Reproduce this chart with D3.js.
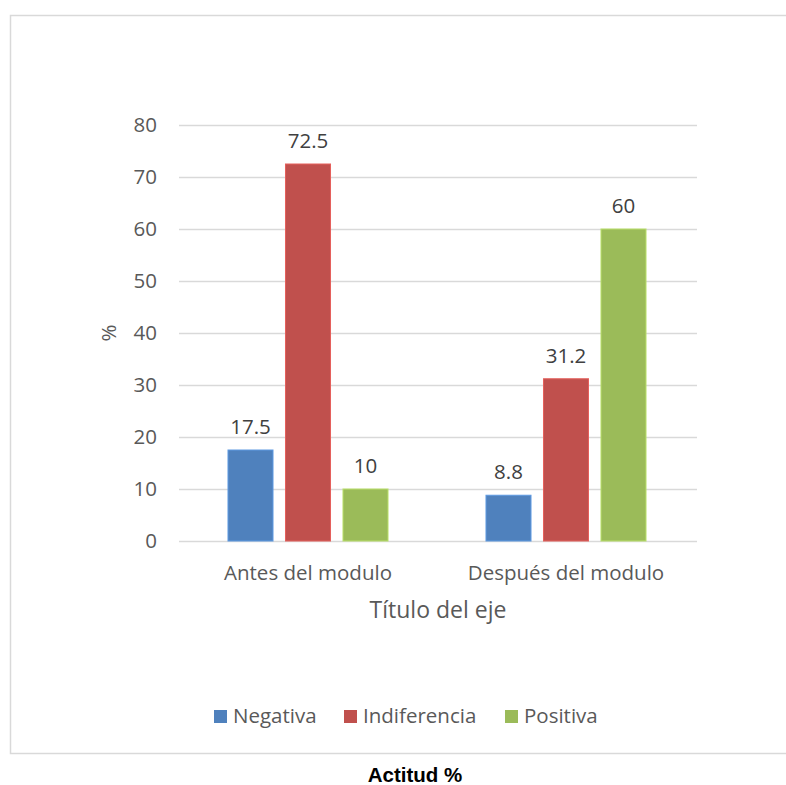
<!DOCTYPE html>
<html>
<head>
<meta charset="utf-8">
<script src="https://cdn.jsdelivr.net/npm/d3@7"></script>
<style>
  html, body { margin: 0; padding: 0; background: #fff; }
  svg { display: block; }
</style>
</head>
<body>
<svg id="chart" width="786" height="785"></svg>
<script>
// Survey data: attitude before and after the module (%)
const categories = ["Antes del modulo", "Después del modulo"];
const seriesNames = ["Negativa", "Indiferencia", "Positiva"];
const negativa = [17.5, 8.8];
const indiferencia = [72.5, 31.2];
const positiva = [10, 60];
const yTicks = [0, 10, 20, 30, 40, 50, 60, 70, 80];
const colors = ["#4F81BD", "#C0504D", "#9BBB59"];

const seriesValues = [negativa, indiferencia, positiva];
const font = "'Open Sans', sans-serif";
const textColor = "#595959";
const fs = "20.5px";

const svg = d3.select("#chart");

// outer chart frame (right edge runs past the canvas)
svg.append("path")
  .attr("d", "M790,15.5 H10.5 V753.5 H790")
  .attr("fill", "none")
  .attr("stroke", "#d9d9d9")
  .attr("stroke-width", 1.5);

const plot = { left: 179, right: 697, top: 125, bottom: 541 };

const x0 = d3.scaleBand()
  .domain(categories)
  .range([plot.left, plot.right - 2])
  .paddingInner(0)
  .paddingOuter(0);

const x1 = d3.scaleBand()
  .domain(seriesNames)
  .range([0, x0.bandwidth()])
  .paddingInner(0.217)
  .paddingOuter(0.852);

const y = d3.scaleLinear()
  .domain([0, 80])
  .range([plot.bottom, plot.top]);

// gridlines and tick labels
const yAxis = d3.axisLeft(y)
  .tickValues(yTicks)
  .tickSize(-(plot.right - plot.left))
  .tickPadding(22)
  .tickFormat(d3.format("d"));

const gy = svg.append("g")
  .attr("transform", `translate(${plot.left},0)`)
  .call(yAxis);
gy.select(".domain").remove();
gy.selectAll(".tick line")
  .attr("stroke", "#d9d9d9")
  .attr("stroke-width", 1.5);
gy.selectAll(".tick text")
  .attr("fill", textColor)
  .style("font-family", font)
  .style("font-size", fs);

// bars
const groups = svg.append("g")
  .selectAll("g")
  .data(categories)
  .join("g")
  .attr("transform", d => `translate(${x0(d)},0)`);

const barData = ci => seriesNames.map((s, si) => ({ series: s, si, value: seriesValues[si][ci] }));

groups.each(function (c, ci) {
  const g = d3.select(this);
  const bars = barData(ci);
  g.selectAll("rect")
    .data(bars)
    .join("rect")
    .attr("x", d => x1(d.series))
    .attr("y", d => y(d.value))
    .attr("width", x1.bandwidth())
    .attr("height", d => y(0) - y(d.value))
    .attr("fill", d => colors[d.si])
    .attr("stroke", d => d3.color(colors[d.si]).brighter(0.5))
    .attr("stroke-width", 1);

  g.selectAll("text.val")
    .data(bars)
    .join("text")
    .attr("class", "val")
    .attr("x", d => x1(d.series) + x1.bandwidth() / 2)
    .attr("y", d => y(d.value) - 16)
    .attr("text-anchor", "middle")
    .attr("fill", "#404040")
    .style("font-family", font)
    .style("font-size", fs)
    .text(d => d.value);
});

// category labels
svg.append("g")
  .selectAll("text")
  .data(categories)
  .join("text")
  .attr("x", d => x0(d) + x0.bandwidth() / 2)
  .attr("y", 580)
  .attr("text-anchor", "middle")
  .attr("fill", textColor)
  .style("font-family", font)
  .style("font-size", fs)
  .text(d => d);

// axis titles
svg.append("text")
  .attr("x", (plot.left + plot.right) / 2)
  .attr("y", 618)
  .attr("text-anchor", "middle")
  .attr("fill", textColor)
  .style("font-family", font)
  .style("font-size", "23px")
  .text("Título del eje");

svg.append("text")
  .attr("transform", `translate(116,${(plot.top + plot.bottom) / 2}) rotate(-90)`)
  .attr("text-anchor", "middle")
  .attr("fill", textColor)
  .style("font-family", font)
  .style("font-size", fs)
  .text("%");

// legend
const legendX = [214, 344, 505];
const legend = svg.append("g")
  .selectAll("g")
  .data(seriesNames)
  .join("g")
  .attr("transform", (d, i) => `translate(${legendX[i]},710)`);
legend.append("rect")
  .attr("width", 13)
  .attr("height", 13)
  .attr("fill", (d, i) => colors[i]);
legend.append("text")
  .attr("x", 19)
  .attr("y", 13)
  .attr("fill", textColor)
  .style("font-family", font)
  .style("font-size", fs)
  .text(d => d);

// caption below the frame
svg.append("text")
  .attr("x", 415)
  .attr("y", 782)
  .attr("text-anchor", "middle")
  .attr("fill", "#000")
  .style("font-family", "Arial, 'Liberation Sans', sans-serif")
  .style("font-weight", "bold")
  .style("font-size", "20.5px")
  .text("Actitud %");
</script>
</body>
</html>
